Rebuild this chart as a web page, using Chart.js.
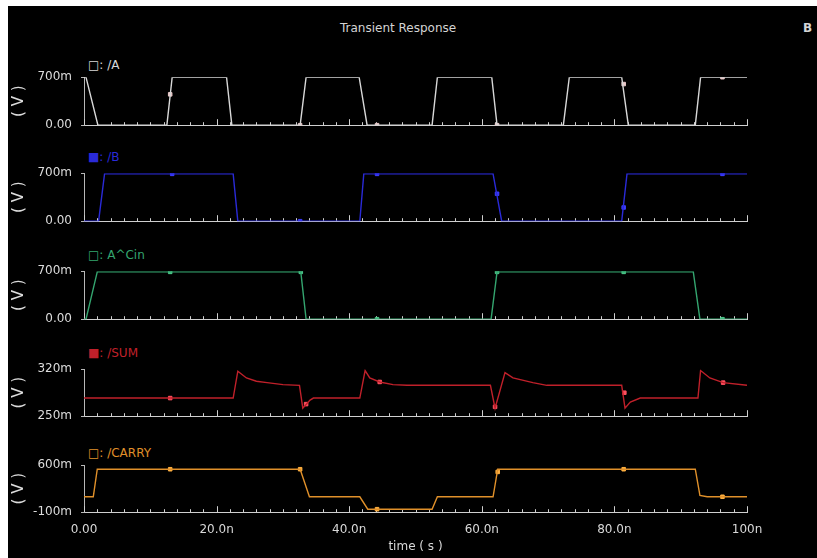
<!DOCTYPE html>
<html>
<head>
<meta charset="utf-8">
<script src="https://cdn.jsdelivr.net/npm/chart.js@4.4.1/dist/chart.umd.min.js"></script>
<style>
  body { margin: 0; background: #fff; width: 817px; height: 558px; overflow: hidden; font-family: "DejaVu Sans", sans-serif; }
  #bg { position: absolute; left: 8px; top: 6px; width: 809px; height: 552px; background: #000; }
  .lbl { position: absolute; font-size: 12px; white-space: nowrap; line-height: 14px; }
  .panel { position: absolute; left: 8px; width: 809px; height: 80px; }
</style>
</head>
<body>
<div id="bg"></div>
<div class="lbl" style="left:340px;top:21px;color:#d4d4d4;">Transient Response</div>
<div class="lbl" style="left:803px;top:21px;color:#d4d4d4;font-weight:bold;">B</div>
<div class="lbl" style="left:88px;top:58px;color:#d8d8d8;">□: /A</div>
<div class="lbl" style="left:88px;top:150px;color:#2a2ad8;">■: /B</div>
<div class="lbl" style="left:88px;top:248px;color:#34a56f;">□: A^Cin</div>
<div class="lbl" style="left:88px;top:346px;color:#c0202a;">■: /SUM</div>
<div class="lbl" style="left:88px;top:446px;color:#e0902a;">□: /CARRY</div>

<div class="panel" id="p0"><canvas id="c0"></canvas></div>
<div class="panel" id="p1"><canvas id="c1"></canvas></div>
<div class="panel" id="p2"><canvas id="c2"></canvas></div>
<div class="panel" id="p3"><canvas id="c3"></canvas></div>
<div class="panel" id="p4"><canvas id="c4"></canvas></div>

<script>
// signals as [time (ns), volts] breakpoints
const sigA = [[0,0.7],[0.3,0.7],[2.1,0],[12.5,0],[13.3,0.7],[21.5,0.7],[22.3,0],[32.6,0],[33.5,0.7],[41.5,0.7],[42.7,0],[52.5,0],[53.3,0.7],[61.5,0.7],[62.3,0],[72.3,0],[73.2,0.7],[81.1,0.7],[82.1,0],[92.2,0],[93,0.7],[100,0.7]]
const sigB = [[0,0],[2.2,0],[3.1,0.69],[22.5,0.69],[23.2,0],[41.6,0],[42.2,0.69],[61.7,0.69],[63,0],[81.1,0],[81.9,0.69],[100,0.69]]
const sigCin = [[0,0],[0.3,0],[2,0.69],[32.7,0.69],[33.5,0],[61.4,0],[62.3,0.69],[91.9,0.69],[92.9,0],[100,0]]
const sigSum = [[0,0.277],[22.5,0.277],[23.2,0.317],[24.5,0.307],[26,0.302],[27.6,0.3],[30,0.297],[32.5,0.296],[33,0.262],[34.1,0.274],[34.6,0.277],[41.6,0.277],[42.4,0.318],[43.1,0.307],[44.6,0.301],[46.6,0.297],[48.7,0.296],[61.3,0.296],[62,0.262],[63.5,0.315],[64.7,0.307],[67.7,0.3],[69.8,0.296],[81.1,0.296],[81.6,0.262],[82.4,0.271],[83.9,0.277],[92.6,0.277],[93,0.318],[94.4,0.307],[96.4,0.3],[100,0.296]]
const sigCarry = [[0,0.13],[1.4,0.13],[2,0.54],[32.6,0.54],[34,0.13],[41.6,0.13],[42.8,-0.055],[52.5,-0.055],[53.3,0.13],[61.7,0.13],[62.4,0.54],[92.2,0.54],[92.9,0.15],[94,0.13],[100,0.13]]

// trace markers
const mkA = [[13,0.45],[32.6,0],[44.2,0],[62.3,0],[81.4,0.6],[96.3,0.7]]
const mkB = [[13.3,0.69],[32.6,0],[44.2,0.69],[62.3,0.4],[81.4,0.2],[96.3,0.69]]
const mkCin = [[13,0.69],[32.7,0.69],[44.2,0],[62.3,0.69],[81.4,0.69],[96.3,0]]
const mkSum = [[13,0.277],[33.5,0.268],[44.6,0.301],[62,0.264],[81.5,0.285],[96.4,0.3]]
const mkCarry = [[13,0.54],[32.6,0.54],[44.2,-0.055],[62.4,0.5],[81.4,0.54],[96.3,0.13]]

// y range of each panel (bottom, top label)
const yRanges = [[0,0.7],[0,0.7],[0,0.7],[0.25,0.32],[-0.1,0.6]]
const xTickLabels = ['0.00','20.0n','40.0n','60.0n','80.0n','100n']

const traces = [
  { sig: sigA, mk: mkA, color: '#d8d8d8', mcol: '#e8c8c8' },
  { sig: sigB, mk: mkB, color: '#2a2ad8', mcol: '#3c3cff' },
  { sig: sigCin, mk: mkCin, color: '#34a56f', mcol: '#4cc88a' },
  { sig: sigSum, mk: mkSum, color: '#c0202a', mcol: '#ff5060' },
  { sig: sigCarry, mk: mkCarry, color: '#e0902a', mcol: '#ffb040' }
]

// where each panel's plot box sits on the page (top, bottom)
const boxes = [[77,125],[173,221],[271,319],[369,416],[465,512]]

const axisCol = '#cfcfcf'
const fmtV = v => v === 0 ? '0.00' : Math.round(v * 1000) + 'm'
const toXY = arr => arr.map(p => ({ x: p[0], y: p[1] }))

// little upward ticks along each panel's time axis
const upTicks = {
  id: 'upTicks',
  beforeDatasetsDraw(chart) {
    const { ctx, chartArea, scales: { x } } = chart
    ctx.save()
    ctx.strokeStyle = axisCol
    ctx.lineWidth = 1
    for (let t = 0; t <= 100; t += 2) {
      const px = Math.round(x.getPixelForValue(t)) + 0.5
      const len = t % 20 === 0 ? 6 : 3
      ctx.beginPath()
      ctx.moveTo(px, chartArea.bottom)
      ctx.lineTo(px, chartArea.bottom - len)
      ctx.stroke()
    }
    ctx.restore()
  }
}

traces.forEach(function(tr, i) {
  const last = i === traces.length - 1
  const chart = new Chart(document.getElementById('c' + i), {
    type: 'line',
    data: {
      datasets: [{
        data: toXY(tr.sig),
        borderColor: tr.color,
        borderWidth: 1.4,
        pointRadius: 0,
        tension: 0
      }, {
        data: toXY(tr.mk),
        showLine: false,
        pointStyle: 'rect',
        pointRadius: 2.5,
        pointBackgroundColor: tr.mcol,
        pointBorderColor: tr.mcol
      }]
    },
    options: {
      responsive: true,
      maintainAspectRatio: false,
      animation: false,
      layout: { padding: { top: 0, right: 70, left: 0, bottom: 0 } },
      plugins: { legend: { display: false }, tooltip: { enabled: false } },
      scales: {
        x: {
          type: 'linear',
          min: 0, max: 100,
          afterFit: s => { s.height = last ? 46 : 4 },
          grid: { display: true, drawOnChartArea: false, drawTicks: false },
          border: { display: true, color: axisCol, width: 1 },
          ticks: {
            display: last,
            stepSize: 20,
            padding: 10,
            color: '#d8d8d8',
            font: { family: 'DejaVu Sans', size: 12 },
            maxRotation: 0,
            callback: (v) => xTickLabels[Math.round(v / 20)]
          },
          title: {
            display: last,
            text: 'time ( s )',
            color: '#d8d8d8',
            font: { family: 'DejaVu Sans', size: 12 },
            padding: { top: 0, bottom: 4 }
          }
        },
        y: {
          min: yRanges[i][0], max: yRanges[i][1],
          afterFit: s => { s.width = 76 },
          afterBuildTicks: s => { s.ticks = [{ value: yRanges[i][0] }, { value: yRanges[i][1] }] },
          grid: { display: true, drawOnChartArea: false, drawTicks: true, tickLength: 3, color: '#b8b8b8' },
          border: { display: true, color: '#b8b8b8', width: 1, dash: [1, 3] },
          ticks: {
            padding: 9,
            color: '#dcdcdc',
            font: { family: 'DejaVu Sans', size: 12 },
            callback: v => fmtV(v)
          },
          title: {
            display: true,
            text: '( V )',
            color: '#dcdcdc',
            font: { family: 'DejaVu Sans', size: 15 },
            padding: { top: 2, bottom: 0 }
          }
        }
      }
    },
    plugins: [upTicks]
  })
  // line the plot box up with the reference by moving/resizing the holder
  const holder = document.getElementById('p' + i)
  const h0 = holder.clientHeight
  const ca = chart.chartArea
  const padTop = ca.top, padBottom = h0 - ca.bottom
  const want = boxes[i][1] - boxes[i][0]
  holder.style.top = (boxes[i][0] - padTop) + 'px'
  holder.style.height = (padTop + want + padBottom) + 'px'
  chart.resize()
})
</script>
</body>
</html>
